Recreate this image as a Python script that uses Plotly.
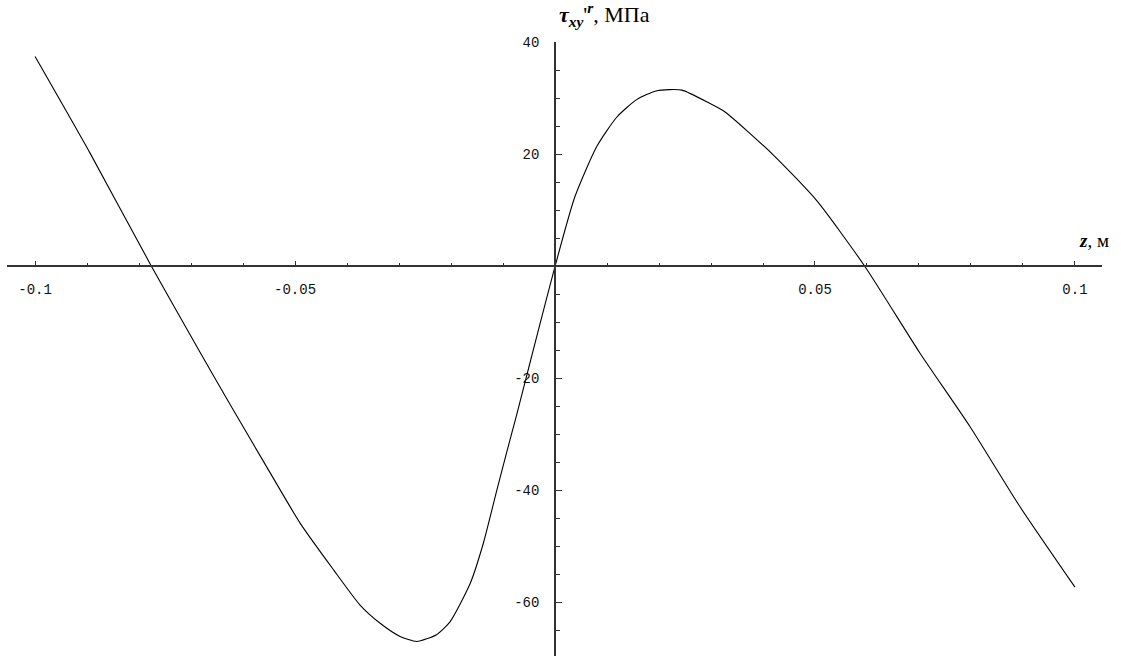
import plotly.graph_objects as go

# Shear stress profile tau_xy'^r along z
z_vals = [-0.1, -0.0894, -0.0776, -0.0683, -0.0619, -0.0554, -0.049, -0.0426,
          -0.0375, -0.0337, -0.0298, -0.0266, -0.0228, -0.0202, -0.0163, -0.0138,
          -0.0112, -0.0093, -0.0074, -0.0058, -0.0042, -0.0029, 0.0, 0.0038,
          0.008, 0.0119, 0.0157, 0.0196, 0.0244, 0.0298, 0.0327, 0.042, 0.0503,
          0.0596, 0.0702, 0.0798, 0.0894, 0.1]
tau_vals = [37.5, 20.2, 0.0, -15.3, -25.6, -35.9, -45.9, -54.2,
            -60.5, -63.7, -66.1, -67.0, -65.8, -63.5, -56.6, -49.5,
            -40.0, -33.2, -26.6, -20.8, -15.0, -10.3, 0.0, 12.4,
            21.4, 26.7, 29.8, 31.4, 31.5, 29.1, 27.6, 19.9, 11.8,
            0.0, -15.5, -28.6, -42.9, -57.3]

x_tickvals = [-0.1, -0.05, 0.05, 0.1]
x_ticktext = ["-0.1", "-0.05", "0.05", "0.1"]
y_tickvals = [-60, -40, -20, 20, 40]
y_ticktext = ["-60", "-40", "-20", "20", "40"]

x_range = [-0.1054, 0.1052]
y_range = [-69.6, 40.1]

axis_color = "#333333"
tick_font = dict(family="Liberation Mono", size=14, color="#111111")

fig = go.Figure()
fig.add_trace(go.Scatter(
    x=z_vals, y=tau_vals, mode="lines",
    line=dict(color="black", width=1.1, shape="spline", smoothing=0.6),
    hoverinfo="skip", showlegend=False,
))

# axes cross at the origin
x_pos = (0 - y_range[0]) / (y_range[1] - y_range[0])
y_pos = (0 - x_range[0]) / (x_range[1] - x_range[0])

fig.update_layout(
    width=1121, height=656,
    margin=dict(l=7, r=19, t=42, b=0),
    paper_bgcolor="white", plot_bgcolor="white",
    xaxis=dict(
        range=x_range, anchor="free", position=x_pos, side="bottom",
        showgrid=False, zeroline=False,
        showline=True, linecolor=axis_color, linewidth=1.6,
        tickmode="array", tickvals=x_tickvals, ticktext=x_ticktext,
        ticks="inside", ticklen=5, tickwidth=1.2, tickcolor=axis_color,
        tickfont=tick_font, ticklabelstandoff=10,
        minor=dict(tickmode="linear", tick0=0, dtick=0.01, ticks="inside",
                   ticklen=3, tickwidth=1.2, tickcolor=axis_color),
    ),
    yaxis=dict(
        range=y_range, anchor="free", position=y_pos, side="left",
        showgrid=False, zeroline=False,
        showline=True, linecolor=axis_color, linewidth=1.6,
        tickmode="array", tickvals=y_tickvals, ticktext=y_ticktext,
        ticks="inside", ticklen=6, tickwidth=1.2, tickcolor=axis_color,
        tickfont=tick_font, ticklabelstandoff=12,
        minor=dict(tickmode="linear", tick0=0, dtick=5, ticks="inside",
                   ticklen=4, tickwidth=1.2, tickcolor=axis_color),
    ),
    annotations=[
        dict(
            text="<b><i>τ<sub>xy</sub></i></b>'<sup><b><i>r</i></b></sup>, МПа",
            x=557, y=656 - 32, xref="paper", yref="paper",
            showarrow=False, xanchor="left", yanchor="bottom",
            font=dict(family="Liberation Serif", size=22, color="black"),
        ),
        dict(
            text="<b><i>z</i></b>, м",
            x=1077, y=656 - 253, xref="paper", yref="paper",
            showarrow=False, xanchor="left", yanchor="bottom",
            font=dict(family="Liberation Serif", size=19, color="black"),
        ),
    ],
)

# convert the pixel anchors of the annotations to paper fractions
plot_w = 1121 - 7 - 19
plot_h = 656 - 42 - 0
for ann in fig.layout.annotations:
    ann.x = (ann.x - 7) / plot_w
    ann.y = (ann.y - 0) / plot_h

fig.write_html("out.html", config={"displayModeBar": False})
